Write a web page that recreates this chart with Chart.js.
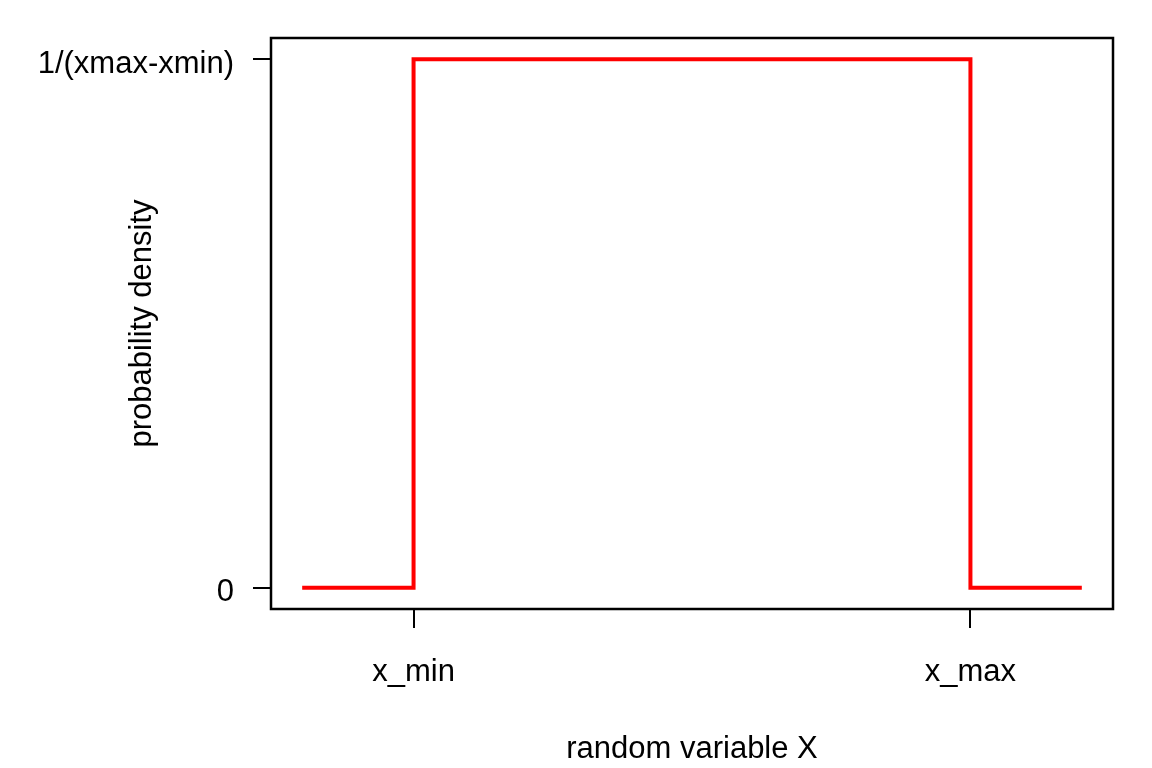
<!DOCTYPE html>
<html lang="en">
<head>
  <meta charset="UTF-8" />
  <title>Uniform density</title>
  <script src="https://cdn.jsdelivr.net/npm/chart.js"></script>
  <style>
    body { margin: 0; background: #fff; }
  </style>
</head>
<body>
  <canvas id="grafico" width="1152" height="768"></canvas>

  <script>
    // density of X on a uniform range, with a bit outside on both sides
    const xValues = [0, 1, 1, 6, 6, 7];
    const density = [0, 0, 0.2, 0.2, 0, 0];

    const xTickValues = [1, 6];
    const xTickLabels = ['x_min', 'x_max'];
    const yTickValues = [0, 0.2];
    const yTickLabels = ['0', '1/(xmax-xmin)'];

    const fonte = { family: 'Liberation Sans, Arial, sans-serif', size: 31 };

    // box around the plot area, like base R
    const caixa = {
      id: 'caixa',
      afterDraw(chart) {
        const { ctx, chartArea: a } = chart;
        ctx.save();
        ctx.strokeStyle = '#000';
        ctx.lineWidth = 2.5;
        ctx.strokeRect(a.left, a.top, a.right - a.left, a.bottom - a.top);
        ctx.restore();
      }
    };

    const ctx = document.getElementById('grafico').getContext('2d');
    new Chart(ctx, {
      type: 'line',
      data: {
        datasets: [{
          data: xValues.map((x, i) => ({ x: x, y: density[i] })),
          borderColor: '#ff0000',
          borderWidth: 4,
          borderJoinStyle: 'miter',
          borderCapStyle: 'butt',
          pointRadius: 0,
          tension: 0,
          fill: false
        }]
      },
      options: {
        responsive: false,
        animation: false,
        layout: { padding: { top: 38, right: 39, left: 0, bottom: 0 } },
        plugins: { legend: { display: false }, tooltip: { enabled: false } },
        scales: {
          x: {
            type: 'linear',
            min: -0.28,
            max: 7.28,
            afterBuildTicks: s => { s.ticks = xTickValues.map(v => ({ value: v })); },
            afterFit: s => { s.height = 159; },
            ticks: {
              color: '#000',
              font: fonte,
              padding: 26,
              maxRotation: 0,
              callback: v => xTickLabels[xTickValues.indexOf(v)]
            },
            grid: { drawOnChartArea: false, color: '#000', lineWidth: 2, tickLength: 19 },
            border: { display: false },
            title: {
              display: true,
              text: 'random variable X',
              color: '#000',
              font: fonte,
              padding: { top: 0, bottom: 0 }
            }
          },
          y: {
            type: 'linear',
            min: -0.008,
            max: 0.208,
            afterBuildTicks: s => { s.ticks = yTickValues.map(v => ({ value: v })); },
            afterFit: s => { s.width = 271; },
            ticks: {
              color: '#000',
              font: fonte,
              padding: 19,
              labelOffset: 5,
              callback: v => yTickLabels[yTickValues.indexOf(v)]
            },
            grid: { drawOnChartArea: false, color: '#000', lineWidth: 2, tickLength: 18 },
            border: { display: false },
            title: {
              display: true,
              text: 'probability density',
              color: '#000',
              font: fonte,
              padding: { top: 124, bottom: 0 }
            }
          }
        }
      },
      plugins: [caixa]
    });
  </script>
</body>
</html>
